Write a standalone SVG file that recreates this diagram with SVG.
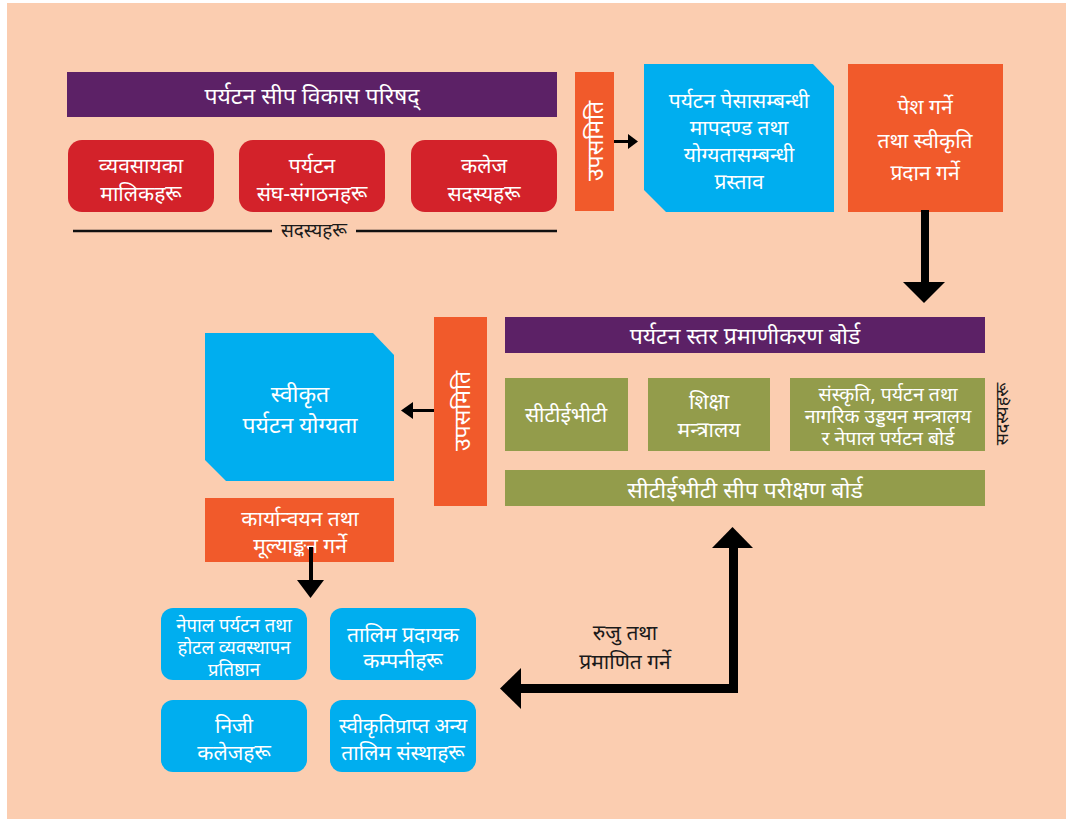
<svg xmlns="http://www.w3.org/2000/svg" width="1066" height="821" viewBox="0 0 1066 821">
<defs>
<style>
text{font-family:"Noto Sans","Noto Sans Devanagari","DejaVu Sans",sans-serif;text-anchor:middle;dominant-baseline:central}
.w{fill:#ffffff;font-size:21px}
.wb{fill:#ffffff;font-size:23px}
.ws{fill:#ffffff;font-size:18.5px}
.k{fill:#1a1a1a;font-size:21px}
.purple{fill:#5C2166}
.red{fill:#D3222A}
.orange{fill:#F15A2B}
.blue{fill:#00AEEF}
.green{fill:#939C4B}
</style>
</defs>
<rect x="0" y="0" width="1066" height="821" fill="#ffffff"/>
<rect x="7" y="3" width="1059" height="816" fill="#FBCDB0"/>

<g id="council">
<rect class="purple" x="67" y="72" width="490" height="45"/>
<text class="wb" x="312" y="95">पर्यटन सीप विकास परिषद्</text>
</g>
<g id="business-owners">
<rect class="red" x="68" y="140" width="146" height="72" rx="14"/>
<text class="w" x="141" y="165">व्यवसायका</text>
<text class="w" x="141" y="193">मालिकहरू</text>
</g>
<g id="tourism-associations">
<rect class="red" x="239" y="140" width="146" height="72" rx="14"/>
<text class="w" x="312" y="165">पर्यटन</text>
<text class="w" x="312" y="193">संघ-संगठनहरू</text>
</g>
<g id="college-members">
<rect class="red" x="411" y="140" width="146" height="72" rx="14"/>
<text class="w" x="484" y="165">कलेज</text>
<text class="w" x="484" y="193">सदस्यहरू</text>
</g>
<g id="members-label-top">
<line x1="73" y1="231" x2="272" y2="231" stroke="#111" stroke-width="2.5"/>
<line x1="356" y1="231" x2="557" y2="231" stroke="#111" stroke-width="2.5"/>
<text class="k" style="font-size:19px" x="314" y="230">सदस्यहरू</text>
</g>

<g id="subcommittee-top">
<rect class="orange" x="575" y="72" width="39" height="139"/>
<text class="wb" transform="translate(594,141) rotate(-90)">उपसमिति</text>
</g>
<g id="proposal">
<polygon class="blue" points="644,64 813,64 834,86 834,212 666,212 644,190"/>
<text class="w" x="739" y="100">पर्यटन पेसासम्बन्धी</text>
<text class="w" x="739" y="127">मापदण्ड तथा</text>
<text class="w" x="739" y="154">योग्यतासम्बन्धी</text>
<text class="w" x="739" y="181">प्रस्ताव</text>
</g>
<g id="submit-approve">
<rect class="orange" x="848" y="64" width="155" height="148"/>
<text class="w" x="925" y="106">पेश गर्ने</text>
<text class="w" x="925" y="140">तथा स्वीकृति</text>
<text class="w" x="925" y="172">प्रदान गर्ने</text>
</g>

<g id="subcommittee-mid">
<rect class="orange" x="434" y="317" width="53" height="189"/>
<text class="wb" transform="translate(461,411) rotate(-90)">उपसमिति</text>
</g>
<g id="board">
<rect class="purple" x="505" y="317" width="480" height="36"/>
<text class="wb" x="745" y="335">पर्यटन स्तर प्रमाणीकरण बोर्ड</text>
</g>
<g id="ctevt">
<rect class="green" x="505" y="378" width="123" height="73"/>
<text class="w" x="566" y="414">सीटीईभीटी</text>
</g>
<g id="education-ministry">
<rect class="green" x="648" y="378" width="122" height="73"/>
<text class="w" x="709" y="401">शिक्षा</text>
<text class="w" x="709" y="429">मन्त्रालय</text>
</g>
<g id="culture-ministry">
<rect class="green" x="790" y="378" width="195" height="73"/>
<text class="w" style="font-size:19.5px" x="888" y="393">संस्कृति, पर्यटन तथा</text>
<text class="w" style="font-size:19.5px" x="888" y="415">नागरिक उड्डयन मन्त्रालय</text>
<text class="w" style="font-size:19.5px" x="888" y="437">र नेपाल पर्यटन बोर्ड</text>
</g>
<g id="members-label-mid">
<text class="k" style="font-size:18px" transform="translate(1001,414) rotate(-90)">सदस्यहरू</text>
</g>
<g id="skill-test-board">
<rect class="green" x="505" y="470" width="480" height="36"/>
<text class="wb" x="745" y="489">सीटीईभीटी सीप परीक्षण बोर्ड</text>
</g>

<g id="approved-qualification">
<polygon class="blue" points="205,333 373,333 394,355 394,481 226,481 205,460"/>
<text class="wb" x="300" y="393">स्वीकृत</text>
<text class="wb" x="300" y="424">पर्यटन योग्यता</text>
</g>
<g id="implement-evaluate">
<rect class="orange" x="205" y="498" width="189" height="64"/>
<text class="w" x="300" y="518">कार्यान्वयन तथा</text>
<text class="w" x="300" y="545">मूल्याङ्कन गर्ने</text>
</g>

<g id="nathm">
<rect class="blue" x="161" y="608" width="146" height="72" rx="12"/>
<text class="ws" x="234" y="624">नेपाल पर्यटन तथा</text>
<text class="ws" x="234" y="646">होटल व्यवस्थापन</text>
<text class="ws" x="234" y="668">प्रतिष्ठान</text>
</g>
<g id="training-companies">
<rect class="blue" x="330" y="608" width="146" height="72" rx="12"/>
<text class="w" x="403" y="634">तालिम प्रदायक</text>
<text class="w" x="403" y="660">कम्पनीहरू</text>
</g>
<g id="private-colleges">
<rect class="blue" x="161" y="700" width="146" height="72" rx="12"/>
<text class="w" x="234" y="725">निजी</text>
<text class="w" x="234" y="752">कलेजहरू</text>
</g>
<g id="other-institutes">
<rect class="blue" x="330" y="700" width="146" height="72" rx="12"/>
<text class="w" style="font-size:20px" x="403" y="725">स्वीकृतिप्राप्त अन्य</text>
<text class="w" x="403" y="752">तालिम संस्थाहरू</text>
</g>

<g id="connectors" fill="#000" stroke="none">
<rect x="614" y="140" width="16" height="3"/>
<polygon points="628,134 638,141.5 628,149"/>
<rect x="921" y="210" width="8" height="73"/>
<polygon points="903,282 945,282 924,303"/>
<rect x="413" y="409" width="21" height="3"/>
<polygon points="413,402 401,410.5 413,419"/>
<rect x="309" y="547" width="4" height="34"/>
<polygon points="297,580 324,580 310.5,598"/>
<rect x="729" y="546" width="9" height="147"/>
<polygon points="712,548 753,548 732.5,527"/>
<rect x="519" y="684" width="219" height="9"/>
<polygon points="521,668 521,709 500,688.5"/>
<text class="k" x="625" y="632">रुजु तथा</text>
<text class="k" x="625" y="661">प्रमाणित गर्ने</text>
</g>
</svg>
